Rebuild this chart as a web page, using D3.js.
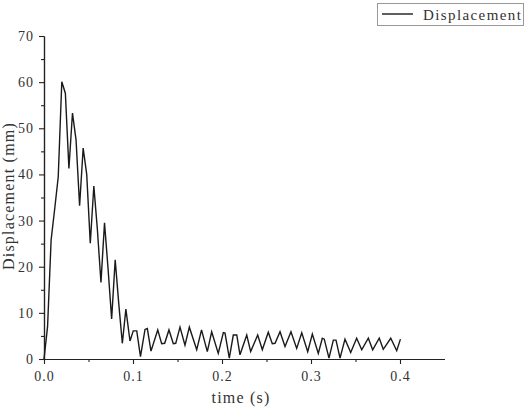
<!DOCTYPE html>
<html>
<head>
<meta charset="utf-8">
<script src="https://d3js.org/d3.v7.min.js"></script>
<style>
  body { margin: 0; background: #fff; }
  text { font-family: "Liberation Serif", serif; fill: #333; }
</style>
</head>
<body>
<div id="chart"></div>
<script>
// time (s) and displacement (mm)
var timeS = [0, 0.004, 0.008, 0.012, 0.016, 0.020, 0.024, 0.028, 0.032, 0.036,
  0.040, 0.044, 0.048, 0.052, 0.056, 0.060, 0.064, 0.068, 0.072, 0.076,
  0.080, 0.084, 0.088, 0.092, 0.0966, 0.1003, 0.1042, 0.1084, 0.1135, 0.1161,
  0.1202, 0.1278, 0.1322, 0.1356, 0.1404, 0.1453, 0.1480, 0.1528, 0.1584, 0.1633,
  0.1716, 0.1770, 0.1835, 0.1884, 0.1958, 0.2015, 0.2034, 0.2082, 0.2127, 0.2166,
  0.2202, 0.2278, 0.2322, 0.2401, 0.2453, 0.2520, 0.2565, 0.2596, 0.2652, 0.2708,
  0.2775, 0.2839, 0.2896, 0.2963, 0.3015, 0.3082, 0.3127, 0.3149, 0.3202, 0.3251,
  0.3281, 0.3326, 0.3382, 0.3446, 0.3513, 0.3570, 0.3644, 0.3693, 0.3767, 0.3812,
  0.3896, 0.3963, 0.4005];
var dispMm = [0, 7, 25.8, 32.5, 39.5, 60.1, 57.6, 41.3, 53.3, 47.5,
  33.2, 45.7, 40, 25.1, 37.5, 28, 16.6, 29.5, 19.5, 8.7,
  21.5, 12, 3.4, 10.8, 3.9, 6.1, 6.1, 0.5, 6.4, 6.6,
  1.7, 6.3, 3.3, 3.4, 6.3, 3.3, 3.4, 6.9, 3.0, 6.9,
  2.0, 6.3, 1.6, 5.9, 1.2, 5.7, 5.6, 0.2, 5.2, 5.2,
  0.9, 5.2, 1.6, 5.2, 2.0, 5.8, 3.3, 3.4, 5.9, 2.7,
  5.9, 2.3, 5.7, 1.6, 5.4, 1.2, 4.5, 4.3, 0.2, 4.1,
  4.1, 0.2, 4.3, 1.4, 4.5, 2.0, 4.5, 2.0, 4.5, 2.1,
  4.5, 1.8, 4.3];

var xMajor = [0, 0.1, 0.2, 0.3, 0.4];
var xMinor = [0.05, 0.15, 0.25, 0.35];
var yMajor = [0, 10, 20, 30, 40, 50, 60, 70];
var yMinor = [5, 15, 25, 35, 45, 55, 65];
var seriesName = "Displacement";

var width = 529, height = 407;
var svg = d3.select("#chart").append("svg")
  .attr("width", width).attr("height", height);
svg.append("rect").attr("width", width).attr("height", height).attr("fill", "#fff");

var x = d3.scaleLinear().domain([0, 0.45]).range([44, 444.5]);
var y = d3.scaleLinear().domain([0, 70]).range([359, 36]);

// x axis
var gx = svg.append("g").attr("transform", "translate(0," + y(0) + ")");
gx.call(d3.axisBottom(x).tickValues(xMajor).tickFormat(d3.format(".1f"))
  .tickSize(5).tickSizeOuter(0).tickPadding(7));
gx.append("g").call(d3.axisBottom(x).tickValues(xMinor).tickFormat("")
  .tickSize(3).tickSizeOuter(0));

// y axis
var gy = svg.append("g").attr("transform", "translate(" + x(0) + ",0)");
gy.call(d3.axisLeft(y).tickValues(yMajor).tickFormat(d3.format("d"))
  .tickSize(5).tickSizeOuter(0).tickPadding(5));
gy.append("g").call(d3.axisLeft(y).tickValues(yMinor).tickFormat("")
  .tickSize(3).tickSizeOuter(0));

svg.selectAll(".domain").attr("stroke", "#222").attr("stroke-width", 1.2);
svg.selectAll(".tick line").attr("stroke", "#222").attr("stroke-width", 1.1);
svg.selectAll(".tick text")
  .style("font-family", "'Liberation Serif', serif")
  .style("font-size", "14px").style("letter-spacing", "1px").attr("fill", "#444");

// curve
var line = d3.line()
  .x(function (d, i) { return x(timeS[i]); })
  .y(function (d) { return y(d); });
svg.append("path").datum(dispMm)
  .attr("d", line)
  .attr("fill", "none")
  .attr("stroke", "#1a1a1a")
  .attr("stroke-width", 1.4)
  .attr("stroke-linejoin", "miter");

// axis titles
svg.append("text")
  .attr("x", 241).attr("y", 403)
  .attr("text-anchor", "middle")
  .style("font-size", "16px").style("letter-spacing", "1.2px")
  .text("time (s)");

svg.append("text")
  .attr("transform", "translate(14,196) rotate(-90)")
  .attr("text-anchor", "middle")
  .style("font-size", "16px").style("letter-spacing", "1.2px")
  .text("Displacement (mm)");

// legend
var lg = svg.append("g");
lg.append("rect").attr("x", 377.5).attr("y", 3.5).attr("width", 146).attr("height", 22)
  .attr("fill", "#fff").attr("stroke", "#999").attr("stroke-width", 1);
lg.append("line").attr("x1", 382).attr("x2", 413).attr("y1", 14).attr("y2", 14)
  .attr("stroke", "#1a1a1a").attr("stroke-width", 1.4);
lg.append("text").attr("x", 423).attr("y", 19.5)
  .style("font-size", "15px").style("letter-spacing", "1.4px")
  .text(seriesName);
</script>
</body>
</html>
